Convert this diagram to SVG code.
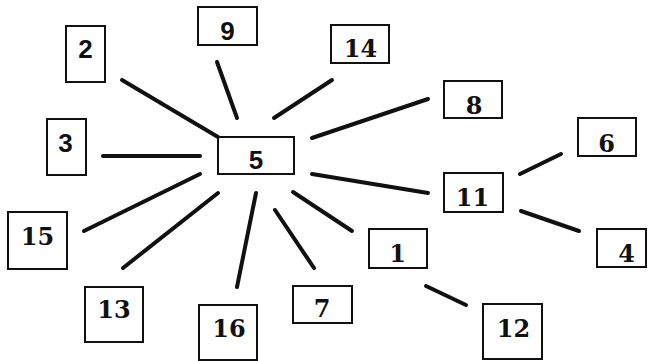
<svg xmlns="http://www.w3.org/2000/svg" width="648" height="361" viewBox="0 0 648 361">
<style>
.box{fill:none;stroke:#111;stroke-width:2}
.ln{stroke:#111;stroke-width:4;stroke-linecap:round}
.s{font-family:"Liberation Sans",Arial,sans-serif;font-weight:bold;font-size:26px;fill:#111;text-anchor:middle}
.r{font-family:"DejaVu Serif",serif;font-weight:bold;font-size:24px;fill:#111;text-anchor:middle}
</style>
<rect width="648" height="361" fill="#fff"/>
<g id="connectors">
<line class="ln" x1="122" y1="80" x2="218" y2="137"/>
<line class="ln" x1="217" y1="62" x2="237" y2="118"/>
<line class="ln" x1="274" y1="118" x2="332" y2="80"/>
<line class="ln" x1="312" y1="138" x2="428" y2="99"/>
<line class="ln" x1="103" y1="156" x2="200" y2="156"/>
<line class="ln" x1="312" y1="174" x2="428" y2="193"/>
<line class="ln" x1="520" y1="174" x2="561" y2="154"/>
<line class="ln" x1="521" y1="211" x2="579" y2="231"/>
<line class="ln" x1="84" y1="231" x2="200" y2="174"/>
<line class="ln" x1="123" y1="268" x2="218" y2="193"/>
<line class="ln" x1="237" y1="287" x2="256" y2="193"/>
<line class="ln" x1="275" y1="210" x2="314" y2="268"/>
<line class="ln" x1="293" y1="192" x2="352" y2="231"/>
<line class="ln" x1="426" y1="286" x2="466" y2="305"/>
</g>
<g id="n5"><rect class="box" x="218" y="137" width="76" height="37"/><text class="s" x="256" y="169">5</text></g>
<g id="n2"><rect class="box" x="66" y="26" width="39" height="56"/><text class="s" x="85.5" y="58">2</text></g>
<g id="n9"><rect class="box" x="198" y="7" width="59" height="38"/><text class="s" x="227.5" y="40">9</text></g>
<g id="n3"><rect class="box" x="47" y="119" width="39" height="56"/><text class="s" x="65.5" y="152">3</text></g>
<g id="n14"><rect class="box" x="331" y="25" width="58" height="38"/><text class="r" x="360.5" y="57">14</text></g>
<g id="n8"><rect class="box" x="444" y="81" width="58" height="37"/><text class="r" x="474" y="114">8</text></g>
<g id="n6"><rect class="box" x="578" y="118" width="58" height="38"/><text class="r" x="606.5" y="152">6</text></g>
<g id="n11"><rect class="box" x="444" y="173" width="59" height="39"/><text class="r" x="472.5" y="206">11</text></g>
<g id="n4"><rect class="box" x="597" y="229" width="49" height="38"/><text class="r" x="626.5" y="262">4</text></g>
<g id="n1"><rect class="box" x="369" y="229" width="58" height="39"/><text class="r" x="397.5" y="262">1</text></g>
<g id="n12"><rect class="box" x="483" y="304" width="59" height="55"/><text class="r" x="513.5" y="337">12</text></g>
<g id="n7"><rect class="box" x="293" y="286" width="59" height="37"/><text class="r" x="322" y="317">7</text></g>
<g id="n15"><rect class="box" x="8" y="212" width="59" height="57"/><text class="r" x="37.5" y="245">15</text></g>
<g id="n13"><rect class="box" x="85" y="287" width="58" height="55"/><text class="r" x="114" y="318">13</text></g>
<g id="n16"><rect class="box" x="199" y="305" width="58" height="55"/><text class="r" x="229" y="337">16</text></g>
</svg>
